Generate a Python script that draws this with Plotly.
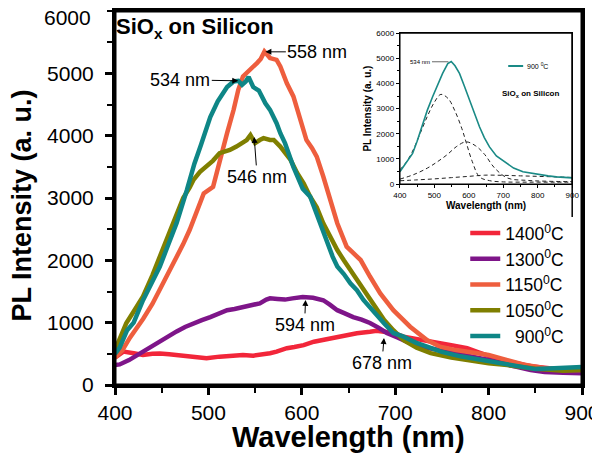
import plotly.graph_objects as go

# ---------------- main data ----------------
wl_1400 = [400, 405, 409, 420, 430, 440, 448, 458, 466, 475, 484, 498, 512, 525, 537, 548, 555, 566, 573, 584, 592, 602, 613, 625, 638, 648, 659, 673, 680, 688, 697, 709, 720, 730, 741, 748, 760, 777, 790, 800, 813, 830, 848, 865, 880, 898, 900]
i_1400 = [440, 500, 535, 510, 480, 500, 507, 495, 480, 470, 455, 430, 455, 465, 480, 470, 480, 510, 535, 590, 610, 640, 695, 730, 775, 800, 830, 855, 870, 855, 840, 775, 750, 720, 700, 670, 640, 590, 520, 470, 400, 350, 295, 270, 255, 240, 245]

wl_1300 = [400, 405, 415, 430, 440, 448, 457, 466, 475, 484, 493, 502, 511, 520, 528, 537, 546, 555, 562, 566, 574, 582, 590, 601, 612, 623, 630, 638, 646, 655, 664, 673, 682, 691, 703, 716, 730, 745, 760, 780, 800, 815, 830, 845, 860, 880, 900]
i_1300 = [320, 330, 400, 540, 620, 690, 780, 860, 930, 995, 1040, 1090, 1150, 1200, 1220, 1250, 1270, 1310, 1370, 1390, 1380, 1370, 1390, 1410, 1400, 1360, 1290, 1200, 1150, 1090, 1050, 995, 920, 835, 760, 670, 610, 560, 510, 460, 400, 340, 290, 240, 210, 195, 190]

wl_1150 = [400, 408, 416, 423, 430, 440, 448, 457, 466, 473, 480, 488, 495, 505, 512, 520, 527, 532, 537, 545, 552, 556, 560, 566, 573, 577, 584, 591, 598, 605, 611, 616, 623, 629, 638, 648, 655, 663, 673, 684, 698, 716, 734, 748, 765, 780, 800, 820, 840, 860, 880, 900]
i_1150 = [440, 560, 760, 900, 1060, 1300, 1525, 1790, 2060, 2260, 2490, 2800, 3075, 3180, 3610, 4040, 4415, 4735, 4950, 5055, 5165, 5230, 5350, 5245, 5215, 5110, 4840, 4630, 4305, 3930, 3800, 3665, 3345, 3020, 2595, 2220, 2120, 2005, 1740, 1470, 1200, 935, 720, 615, 560, 530, 480, 400, 320, 270, 240, 240]

wl_1050 = [400, 406, 412, 420, 430, 440, 448, 459, 466, 473, 480, 484, 491, 498, 505, 512, 518, 523, 530, 537, 541, 545, 550, 555, 559, 566, 570, 577, 588, 595, 602, 609, 616, 623, 630, 638, 645, 652, 661, 670, 679, 688, 698, 709, 723, 738, 760, 780, 800, 820, 850, 880, 900]
i_1050 = [560, 760, 990, 1180, 1420, 1760, 2060, 2520, 2780, 3000, 3170, 3290, 3420, 3500, 3600, 3720, 3740, 3770, 3825, 3880, 3930, 4010, 3880, 3930, 3960, 3930, 3930, 3825, 3610, 3400, 3235, 3020, 2850, 2595, 2380, 2165, 2000, 1845, 1650, 1470, 1260, 1045, 880, 720, 600, 510, 440, 390, 350, 320, 260, 230, 240]

wl_900 = [400, 405, 413, 420, 430, 440, 448, 457, 466, 477, 485, 492, 502, 510, 520, 527, 532, 536, 540, 543, 548, 554, 561, 566, 570, 573, 577, 582, 591, 601, 609, 614, 620, 627, 633, 638, 645, 652, 659, 666, 677, 688, 698, 709, 722, 734, 750, 770, 790, 810, 830, 850, 870, 890, 900]
i_900 = [500, 600, 880, 1000, 1360, 1650, 1900, 2250, 2600, 3130, 3550, 3850, 4300, 4550, 4780, 4870, 4880, 4815, 4870, 4940, 4780, 4725, 4520, 4414, 4300, 4200, 4040, 3880, 3500, 3150, 3020, 2810, 2600, 2280, 2060, 1900, 1780, 1630, 1520, 1365, 1170, 990, 835, 775, 680, 615, 530, 460, 410, 360, 320, 255, 270, 280, 290]

series_names = ["1400<sup>0</sup>C", "1300<sup>0</sup>C", "1150<sup>0</sup>C", "1050<sup>0</sup>C", "\u00a0\u00a0900<sup>0</sup>C"]
series_colors = ["#F2263A", "#7E1589", "#EE5E3E", "#7F7F00", "#0E8686"]
series_x = [wl_1400, wl_1300, wl_1150, wl_1050, wl_900]
series_y = [i_1400, i_1300, i_1150, i_1050, i_900]

y_tickvals = [0, 1000, 2000, 3000, 4000, 5000]
y_top_label = "6000"

# ---------------- inset data ----------------
in_wl = [400, 410, 420, 437, 450, 466, 480, 495, 510, 524, 539, 549, 560, 573, 587, 602, 616, 631, 645, 660, 680, 709, 730, 757, 780, 806, 830, 854, 880, 900]
in_int = [490, 700, 880, 1220, 1700, 2410, 2950, 3470, 3980, 4400, 4790, 4870, 4700, 4400, 3900, 3340, 2800, 2280, 1850, 1480, 1120, 820, 640, 490, 430, 380, 330, 290, 270, 250]

g1_wl = [400, 420, 440, 460, 480, 500, 519, 540, 560, 580, 593, 610, 631, 660, 700, 750, 800, 850, 900]
g1_int = [570, 900, 1400, 2050, 2700, 3250, 3565, 3400, 2900, 2200, 1630, 900, 290, 140, 90, 80, 80, 80, 80]
g2_wl = [400, 440, 480, 510, 538, 565, 592, 620, 646, 675, 713, 770, 830, 900]
g2_int = [200, 380, 640, 900, 1180, 1500, 1680, 1520, 1180, 640, 240, 150, 115, 100]
g3_wl = [400, 450, 500, 550, 600, 646, 700, 750, 800, 850, 900]
g3_int = [135, 170, 210, 260, 310, 357, 350, 330, 310, 290, 266]

FONT = "Liberation Sans, Arial, sans-serif"

fig = go.Figure()

for nm, col, xs, ys in zip(series_names, series_colors, series_x, series_y):
    fig.add_trace(go.Scatter(x=xs, y=ys, mode="lines", name=nm,
                             line=dict(color=col, width=4.5)))

# inset traces
for gx, gy in [(g1_wl, g1_int), (g2_wl, g2_int), (g3_wl, g3_int)]:
    fig.add_trace(go.Scatter(x=gx, y=gy, mode="lines", xaxis="x2", yaxis="y2",
                             line=dict(color="#222222", width=1, dash="4px,3px", shape="spline"),
                             showlegend=False))
fig.add_trace(go.Scatter(x=in_wl, y=in_int, mode="lines", xaxis="x2", yaxis="y2",
                         name="900 <sup>0</sup>C", showlegend=False,
                         line=dict(color="#1A8A86", width=1.6)))

ax_common = dict(showline=True, linecolor="black", mirror=True, showgrid=False,
                 zeroline=False, ticks="outside", tickcolor="black", automargin=False,
                 ticklabeloverflow="allow")

fig.update_layout(
    width=592, height=448,
    margin=dict(l=107, r=18, t=3, b=71, autoexpand=False),
    paper_bgcolor="white", plot_bgcolor="white",
    font=dict(family=FONT, color="black"),
    xaxis=dict(domain=[0, 1], range=[400, 900], tickvals=[400, 500, 600, 700, 800, 900],
               linewidth=3, ticklen=7, tickwidth=2.5, tickfont=dict(size=21),
               minor=dict(dtick=50, ticks="outside", ticklen=5, tickwidth=2, tickcolor="black"),
               **ax_common),
    yaxis=dict(domain=[0, 1], range=[0, 6000], tickvals=y_tickvals,
               linewidth=3, ticklen=7, tickwidth=2.5, tickfont=dict(size=21), ticklabelstandoff=7,
               minor=dict(dtick=500, ticks="outside", ticklen=5, tickwidth=2, tickcolor="black"),
               **ax_common),
    xaxis2=dict(domain=[0.61, 0.979], anchor="y2", range=[400, 900],
                tickvals=[400, 500, 600, 700, 800, 900], linewidth=1.3, ticklen=3, tickwidth=1,
                tickfont=dict(size=8),
                minor=dict(dtick=50, ticks="outside", ticklen=2, tickwidth=1, tickcolor="black"),
                title=dict(text="<b>Wavelength (nm)</b>", font=dict(size=10), standoff=2),
                **ax_common),
    yaxis2=dict(domain=[0.537, 0.941], anchor="x2", range=[0, 6000],
                tickvals=[0, 1000, 2000, 3000, 4000, 5000, 6000], linewidth=1.3, ticklen=3, tickwidth=1,
                tickfont=dict(size=8),
                minor=dict(dtick=500, ticks="outside", ticklen=2, tickwidth=1, tickcolor="black"),
                title=dict(text="<b>PL Intensity (a. u.)</b>", font=dict(size=10), standoff=2),
                **ax_common),
    legend=dict(x=0.75, y=0.454, xanchor="left", yanchor="top", bgcolor="rgba(0,0,0,0)",
                font=dict(size=17.5), tracegroupgap=0, itemwidth=30),
    showlegend=True,
)

annos = [
    # axis titles
    dict(x=0.5, y=-0.139, xref="paper", yref="paper", xanchor="center", yanchor="middle",
         text="<b>Wavelength (nm)</b>", showarrow=False, font=dict(size=29)),
    dict(x=-0.199, y=0.48, xref="paper", yref="paper", xanchor="center", yanchor="middle",
         text="<b>PL Intensity (a. u.)</b>", textangle=-90, showarrow=False, font=dict(size=27)),
    # top y tick label (nudged a little to stay inside the page)
    dict(x=-0.047, y=0.982, xref="paper", yref="paper", xanchor="right", yanchor="middle",
         text=y_top_label, showarrow=False, font=dict(size=21)),
    dict(x=-0.003, y=0.955, xref="paper", yref="paper", xanchor="left", yanchor="middle",
         text="<b>SiO<sub>x</sub> on Silicon</b>", showarrow=False, font=dict(size=22)),
    dict(x=561, y=5345, text="558 nm", ax=52, ay=0),
    dict(x=532, y=4880, text="534 nm", ax=-58, ay=-1),
    dict(x=549, y=3980, text="546 nm", ax=3, ay=40),
    dict(x=604, y=1365, text="594 nm", ax=-1, ay=25),
    dict(x=688, y=755, text="678 nm", ax=-2, ay=25),
    dict(x=541, y=4860, xref="x2", yref="y2", text="534 nm", ax=-28, ay=0,
         arrowhead=0, arrowwidth=0.6, font=dict(size=6)),
    dict(x=0.825, y=0.777, xref="paper", yref="paper", xanchor="left", yanchor="middle",
         text="<b>SiO<sub>x</sub> on Silicon</b>", showarrow=False, font=dict(size=8)),
    dict(x=0.878, y=0.853, xref="paper", yref="paper", xanchor="left", yanchor="middle",
         text="900 <sup>0</sup>C", showarrow=False, font=dict(size=7)),
]
for a in annos:
    if "xref" not in a:
        a.update(xref="x", yref="y", showarrow=True, arrowhead=2, arrowsize=1.2,
                 arrowwidth=1, arrowcolor="black", font=dict(size=18))
    elif a.get("showarrow", True) and "arrowhead" in a:
        a.update(showarrow=True, arrowcolor="black")
    fig.add_annotation(**a)

# main frame (top / right edges)
fig.add_shape(type="rect", xref="paper", yref="paper", x0=0, x1=1, y0=0, y1=1,
              line=dict(color="black", width=3), layer="above")
# inset frame
fig.add_shape(type="rect", xref="x2 domain", yref="y2 domain", x0=0, x1=1, y0=0, y1=1,
              line=dict(color="black", width=1.3), layer="above")
# inset legend line sample
fig.add_shape(type="line", xref="paper", yref="paper", x0=0.842, x1=0.874, y0=0.853, y1=0.853,
              line=dict(color="#1A8A86", width=2))
# right border of the inset picture
fig.add_shape(type="line", xref="paper", yref="paper", x0=0.979, x1=0.979, y0=0.449, y1=0.941,
              line=dict(color="black", width=1.5))

fig.write_html("out.html")
